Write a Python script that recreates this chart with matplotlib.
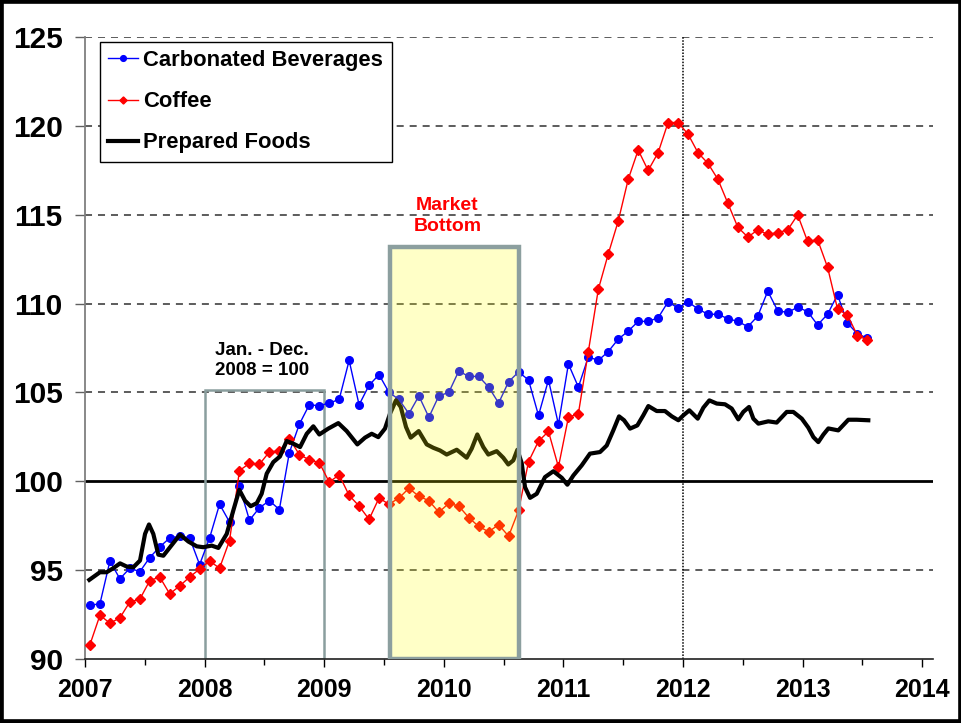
import numpy as np
import matplotlib
matplotlib.use("Agg")
import matplotlib.pyplot as plt
from matplotlib.patches import Rectangle

# ---------------- data ----------------
start_year = 2007
carbonated = [93.0, 93.1, 95.5, 94.5, 95.1, 94.9, 95.7, 96.3, 96.8, 96.9, 96.8, 95.3,
              96.8, 98.7, 97.7, 99.7, 97.8, 98.5, 98.9, 98.4, 101.6, 103.2, 104.3, 104.25,
              104.4, 104.6, 106.8, 104.3, 105.4, 106.0, 105.0, 104.6, 103.8, 104.8, 103.6, 104.8,
              105.0, 106.2, 105.9, 105.9, 105.3, 104.4, 105.6, 106.15, 105.7, 103.7, 105.7, 103.2,
              106.6, 105.3, 107.0, 106.8, 107.3, 108.0, 108.45, 109.0, 109.0, 109.2, 110.1, 109.75,
              110.1, 109.7, 109.4, 109.4, 109.15, 109.0, 108.7, 109.3, 110.7, 109.6, 109.5, 109.8,
              109.55, 108.8, 109.4, 110.5, 108.9, 108.3, 108.05]
coffee = [90.8, 92.45, 92.0, 92.3, 93.2, 93.35, 94.4, 94.6, 93.65, 94.1, 94.6, 95.05,
          95.5, 95.1, 96.65, 100.6, 101.0, 100.95, 101.65, 101.7, 102.4, 101.5, 101.2, 101.05,
          99.95, 100.35, 99.2, 98.6, 97.85, 99.05, 98.7, 99.05, 99.6, 99.15, 98.9, 98.25,
          98.75, 98.6, 97.95, 97.45, 97.15, 97.55, 96.9, 98.35, 101.1, 102.25, 102.8, 100.8,
          103.6, 103.8, 107.3, 110.8, 112.8, 114.65, 117.0, 118.65, 117.5, 118.5, 120.2, 120.2,
          119.55, 118.5, 117.9, 117.0, 115.65, 114.3, 113.75, 114.15, 113.9, 114.0, 114.15, 115.0,
          113.5, 113.6, 112.05, 109.7, 109.35, 108.2, 107.95]

pf_year = [2007.036, 2007.125, 2007.181, 2007.237, 2007.293, 2007.349, 2007.404, 2007.460,
           2007.502, 2007.535, 2007.571, 2007.613, 2007.655, 2007.711, 2007.794, 2007.864,
           2007.934, 2007.989, 2008.059, 2008.115, 2008.185, 2008.240, 2008.290, 2008.338,
           2008.385, 2008.436, 2008.477, 2008.519, 2008.574, 2008.630, 2008.686, 2008.742,
           2008.798, 2008.854, 2008.909, 2008.959, 2009.034, 2009.118, 2009.188, 2009.277,
           2009.341, 2009.397, 2009.452, 2009.508, 2009.550, 2009.600, 2009.640, 2009.684,
           2009.723, 2009.790, 2009.857, 2009.912, 2009.968, 2010.024, 2010.108, 2010.191,
           2010.233, 2010.280, 2010.330, 2010.372, 2010.442, 2010.497, 2010.539, 2010.581,
           2010.615, 2010.651, 2010.679, 2010.721, 2010.777, 2010.846, 2010.916, 2010.986,
           2011.033, 2011.083, 2011.153, 2011.222, 2011.306, 2011.362, 2011.417, 2011.465,
           2011.507, 2011.557, 2011.618, 2011.668, 2011.710, 2011.780, 2011.849, 2011.906,
           2011.961, 2012.003, 2012.053, 2012.123, 2012.170, 2012.220, 2012.282, 2012.351,
           2012.407, 2012.462, 2012.504, 2012.552, 2012.588, 2012.630, 2012.713, 2012.783,
           2012.867, 2012.922, 2012.993, 2013.048, 2013.090, 2013.131, 2013.173, 2013.215,
           2013.298, 2013.382, 2013.452, 2013.549]
pf_value = [94.44, 94.87, 94.87, 95.10, 95.37, 95.19, 95.15, 95.53,
            97.03, 97.56, 97.03, 95.86, 95.80, 96.28, 96.99, 96.60,
            96.33, 96.28, 96.37, 96.24, 97.03, 98.35, 99.51, 98.90,
            98.59, 98.76, 99.29, 100.42, 101.07, 101.39, 102.26, 102.11,
            101.92, 102.67, 103.09, 102.63, 102.96, 103.27, 102.82, 102.07,
            102.45, 102.67, 102.48, 102.96, 103.80, 104.55, 104.18, 103.05,
            102.45, 102.82, 102.07, 101.88, 101.73, 101.50, 101.77, 101.32,
            101.83, 102.63, 101.92, 101.50, 101.69, 101.32, 100.94, 101.17,
            101.77, 101.02, 99.66, 99.06, 99.29, 100.23, 100.56, 100.19,
            99.80, 100.32, 100.89, 101.55, 101.64, 102.01, 102.86, 103.65,
            103.43, 102.96, 103.14, 103.71, 104.23, 103.95, 103.95, 103.65,
            103.43, 103.71, 103.99, 103.52, 104.14, 104.55, 104.37, 104.33,
            104.09, 103.48, 103.90, 104.18, 103.52, 103.24, 103.37, 103.30,
            103.90, 103.90, 103.52, 103.01, 102.48, 102.20, 102.62, 102.97,
            102.86, 103.46, 103.46, 103.43]

series_names = ["Carbonated Beverages", "Coffee", "Prepared Foods"]
year_ticks = [2007, 2008, 2009, 2010, 2011, 2012, 2013, 2014]
value_ticks = [90, 95, 100, 105, 110, 115, 120, 125]
base_box = (2008.0, 2009.0, 105.15)          # Jan - Dec 2008 reference box
bottom_box = (2009.554, 2010.629, 113.2)     # market bottom shaded period
base_label = "Jan. - Dec.\n2008 = 100"
bottom_label = "Market\nBottom"

# ---------------- figure ----------------
plt.rcParams['font.family'] = ['Liberation Sans', 'DejaVu Sans']
fig = plt.figure(figsize=(9.62, 7.23), dpi=100)
ax = fig.add_axes([0.08836, 0.08893, 0.88150, 0.85947])

months = start_year + (np.arange(len(carbonated)) + 0.5) / 12.0

# gridlines
for v in value_ticks[1:]:
    if v == 100:
        continue
    ax.axhline(v, color='#303030', lw=1.1, ls=(0, (4.6, 3.9)), zorder=1)
ax.axhline(100, color='black', lw=2.0, zorder=2)
ax.axvline(2012, color='black', lw=1.1, ls=(0, (1, 1)), zorder=1)

# Jan-Dec 2008 box
ax.add_patch(Rectangle((base_box[0], 90), base_box[1] - base_box[0], base_box[2] - 90,
                       fill=False, edgecolor='#8a9e9e', lw=1.8, zorder=2))

# series
l1, = ax.plot(months, carbonated, color='#0000ff', lw=1.0, marker='o', ms=5.5,
              label=series_names[0], zorder=4)
l2, = ax.plot(months, coffee, color='#ff0000', lw=1.0, marker='D', ms=4.8,
              label=series_names[1], zorder=4)
l3, = ax.plot(pf_year, pf_value, color='black', lw=3.0, solid_joinstyle='round',
              label=series_names[2], zorder=5)

# market bottom overlay
ax.add_patch(Rectangle((bottom_box[0], 90), bottom_box[1] - bottom_box[0], bottom_box[2] - 90,
                       facecolor=(1, 1, 0), alpha=0.22, edgecolor='none', zorder=6))
ax.add_patch(Rectangle((bottom_box[0], 90), bottom_box[1] - bottom_box[0], bottom_box[2] - 90,
                       fill=False, edgecolor='#8c9f9f', lw=3.2, zorder=7))

ax.text(2010.03, 114.95, bottom_label, color='#ff0000',
        fontsize=14, fontweight='bold', ha='center', va='center', linespacing=1.3, zorder=8)
ax.text(2008.48, 106.8, base_label, color='black', fontsize=13.5, fontweight='bold',
        ha='center', va='center', linespacing=1.25, zorder=8)

# axes styling
ax.set_xlim(2007, 2014.09)
ax.set_ylim(90, 125)
ax.set_xticks(year_ticks)
ax.set_xticklabels([str(y) for y in year_ticks], fontsize=18, fontweight='bold')
ax.set_xticks([y + 0.5 for y in year_ticks[:-1]], minor=True)
ax.set_yticks(value_ticks)
ax.set_yticklabels([str(v) for v in value_ticks], fontsize=21.5, fontweight='bold')
ax.tick_params(axis='x', which='major', direction='out', length=6, width=1, pad=8, color='black')
ax.tick_params(axis='x', which='minor', direction='out', length=4, width=1, color='black')
ax.tick_params(axis='y', direction='out', length=7, width=1, pad=9, color='#606060')
for s in ['top', 'right']:
    ax.spines[s].set_visible(False)
ax.spines['left'].set_color('#7f7f7f')
ax.spines['left'].set_linewidth(1.3)
ax.spines['bottom'].set_color('#202020')
ax.spines['bottom'].set_linewidth(1.2)

leg = ax.legend(handles=[l1, l2, l3], loc='upper left', bbox_to_anchor=(0.0177, 0.993),
                borderaxespad=0, prop={'weight': 'bold', 'size': 15.8},
                frameon=True, fancybox=False, edgecolor='black', framealpha=1,
                handlelength=1.35, handletextpad=0.25, labelspacing=0.92, borderpad=0.38,
                markerscale=0.75)
leg.get_frame().set_linewidth(1.0)
leg.set_zorder(10)

# figure border
fig.add_artist(Rectangle((0, 0), 1, 1, transform=fig.transFigure, fill=False,
                         edgecolor='black', lw=5.5, zorder=20))

fig.savefig("out.png", dpi=100, facecolor='white')
